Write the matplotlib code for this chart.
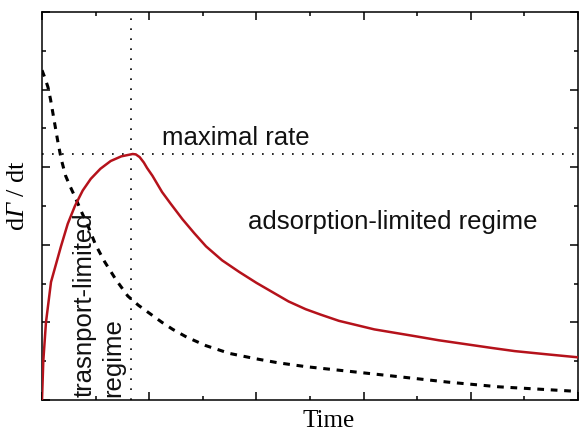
import matplotlib.pyplot as plt

plt.rcParams['mathtext.fontset'] = 'custom'
plt.rcParams['mathtext.rm'] = 'Liberation Serif'
plt.rcParams['mathtext.sf'] = 'Liberation Serif:italic'

# adsorption rate (red)
rate_t = [0.0, 0.012, 0.037, 0.084, 0.177, 0.24, 0.307, 0.38, 0.455, 0.545,
          0.641, 0.74, 0.846, 0.875, 0.911, 0.95, 0.98, 1.03, 1.12, 1.2,
          1.31, 1.42, 1.53, 1.68, 1.84, 2.0, 2.15, 2.3, 2.46, 2.6, 2.77,
          3.1, 3.49, 3.7, 3.95, 4.2, 4.41, 4.7, 5.0]
rate_y = [0.0, 0.5, 1.0, 1.52, 1.98, 2.27, 2.50, 2.70, 2.85, 2.98,
          3.08, 3.14, 3.17, 3.165, 3.13, 3.06, 2.99, 2.89, 2.68, 2.53,
          2.33, 2.15, 1.98, 1.80, 1.65, 1.51, 1.39, 1.27, 1.17, 1.10, 1.02,
          0.91, 0.82, 0.77, 0.72, 0.67, 0.63, 0.59, 0.55]

# transport curve (dashed)
trans_t = [0.0, 0.03, 0.056, 0.08, 0.10, 0.125, 0.149, 0.18, 0.22, 0.26,
           0.307, 0.37, 0.43, 0.5, 0.585, 0.69, 0.80, 0.9, 1.01, 1.12,
           1.22, 1.35, 1.53, 1.75, 2.0, 2.2, 2.46, 2.93, 3.33, 3.79, 4.26,
           4.88, 5.0]
trans_y = [4.25, 4.14, 4.03, 3.87, 3.71, 3.51, 3.32, 3.10, 2.89, 2.76,
           2.62, 2.42, 2.24, 2.0, 1.78, 1.55, 1.34, 1.22, 1.11, 1.0,
           0.91, 0.81, 0.70, 0.60, 0.53, 0.48, 0.43, 0.36, 0.30, 0.23, 0.17,
           0.12, 0.11]

t_peak = 0.83
max_rate = 3.17

fig = plt.figure(figsize=(5.8, 4.31), dpi=100)
ax = fig.add_axes([42 / 580, 1 - 401 / 431, 536 / 580, 388 / 431])

ax.plot(rate_t, rate_y, color='#b5121b', lw=1.8, zorder=3)
ax.plot(trans_t, trans_y, color='black', lw=2.2, linestyle=(0, (2.2, 2.2)))
ax.axvline(t_peak, color='black', lw=1.2, linestyle=(0, (1, 5)))
ax.axhline(max_rate, color='black', lw=1.2, linestyle=(0, (1, 5)))

ax.set_xlim(0, 5)
ax.set_ylim(0, 5)
ax.set_xticks([0, 1, 2, 3, 4, 5])
ax.set_xticks([0.5, 1.5, 2.5, 3.5, 4.5], minor=True)
ax.set_yticks([0, 1, 2, 3, 4, 5])
ax.set_yticks([0.5, 1.5, 2.5, 3.5, 4.5], minor=True)
ax.tick_params(which='both', direction='in', top=True, right=True,
               labelbottom=False, labelleft=False, width=1.1)
ax.tick_params(which='major', length=5.8)
ax.tick_params(which='minor', length=2.9)
for s in ax.spines.values():
    s.set_linewidth(1.1)

txt = dict(family='Liberation Sans', fontsize=18.5, color='#111111')
ax.text(1.12, 3.30, 'maximal rate', va='baseline', **txt)
ax.text(1.92, 2.22, 'adsorption-limited regime', va='baseline', **txt)
ax.text(0.466, 0.05, 'trasnport-limited', rotation=90, rotation_mode='anchor',
        ha='left', va='baseline', **txt)
ax.text(0.728, 0.05, 'regime', rotation=90, rotation_mode='anchor',
        ha='left', va='baseline', **txt)

ax.set_xlabel('Time', family='Liberation Serif', fontsize=18)
ax.xaxis.set_label_coords(0.534, -0.023)
ax.set_ylabel('d$\\mathsf{Γ}$ / dt', family='Liberation Serif', fontsize=19)
ax.yaxis.set_label_coords(-0.025, 0.53)

fig.savefig('out.png', dpi=100)
plt.close(fig)
